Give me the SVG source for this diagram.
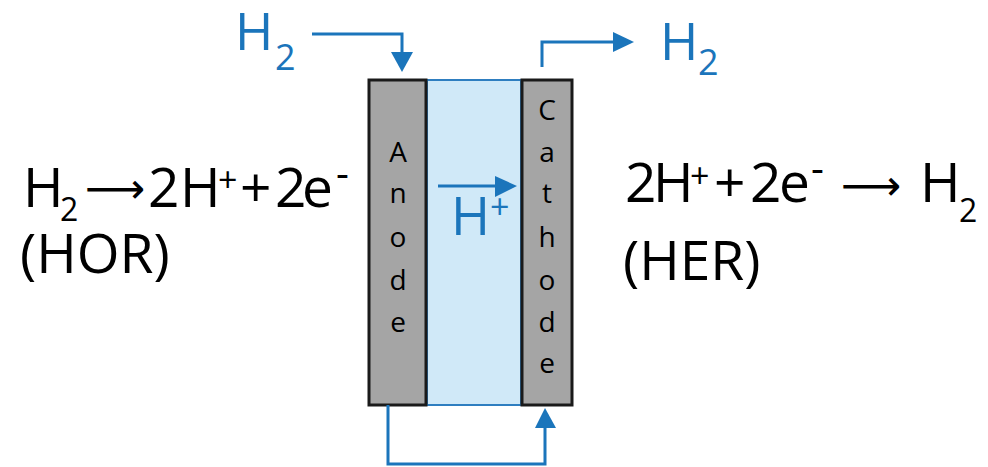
<svg xmlns="http://www.w3.org/2000/svg" width="988" height="467" viewBox="0 0 988 467">
<style>
text { font-family: "Open Sans", "Liberation Sans", sans-serif; }
.eq { font-size: 55px; fill: #000; }
.sub { font-size: 32px; }
.sup { font-size: 34px; }
.min { font-size: 40px; }
.arr { font-family: "DejaVu Sans", sans-serif; font-size: 42px; }
.blue { fill: #1B75BB; }
.lbl { font-size: 28px; fill: #000; text-anchor: middle; }
.electrode { fill: #A5A5A5; stroke: #1A1A1A; stroke-width: 3; }
.conn { fill: none; stroke: #1B75BB; stroke-width: 3; }
.head { fill: #1B75BB; }
</style>
<rect width="988" height="467" fill="#fff"/>

<g id="membrane">
  <rect x="427" y="80" width="94" height="325" fill="#D0E9F8" stroke="#2E7EC0" stroke-width="2"/>
</g>
<g id="anode">
  <rect class="electrode" x="369" y="80" width="57" height="325"/>
  <text class="lbl" x="398" y="162">A</text>
  <text class="lbl" x="398" y="203">n</text>
  <text class="lbl" x="398" y="247">o</text>
  <text class="lbl" x="398" y="290">d</text>
  <text class="lbl" x="398" y="332">e</text>
</g>
<g id="cathode">
  <rect class="electrode" x="522" y="80" width="50" height="325"/>
  <text class="lbl" x="547" y="120">C</text>
  <text class="lbl" x="547" y="162">a</text>
  <text class="lbl" x="547" y="203">t</text>
  <text class="lbl" x="547" y="247">h</text>
  <text class="lbl" x="547" y="290">o</text>
  <text class="lbl" x="547" y="332">d</text>
  <text class="lbl" x="547" y="373">e</text>
</g>

<g id="connectors">
  <path class="conn" d="M312,34 H402 V54"/>
  <polygon class="head" points="391,52 413,52 402,72"/>
  <path class="conn" d="M542,67 V42 H615"/>
  <polygon class="head" points="613,32 634,42 613,52"/>
  <path class="conn" d="M438,186 H497"/>
  <polygon class="head" points="495,176 517,186 495,197"/>
  <path class="conn" d="M388,405 V464 H545 V426"/>
  <polygon class="head" points="535,428 556,428 545,408"/>
</g>

<g id="h2-in">
  <text class="blue" style="font-size:52px"><tspan x="235" y="50">H</tspan><tspan x="275" y="70" style="font-size:36px">2</tspan></text>
</g>
<g id="h2-out">
  <text class="blue" style="font-size:52px"><tspan x="660" y="60">H</tspan><tspan x="698" y="75" style="font-size:36px">2</tspan></text>
</g>
<g id="hplus">
  <text class="blue" style="font-size:53px"><tspan x="451" y="235">H</tspan><tspan x="490" y="219" style="font-size:34px">+</tspan></text>
</g>

<g id="hor">
  <text class="eq"><tspan x="23" y="207">H</tspan><tspan class="sub" x="60" y="221">2</tspan><tspan class="arr" x="85" y="203">⟶</tspan><tspan x="148" y="207">2</tspan><tspan x="180" y="207">H</tspan><tspan class="sup" x="218" y="192">+</tspan><tspan x="240" y="207">+</tspan><tspan x="275" y="207">2</tspan><tspan x="302" y="207">e</tspan><tspan class="min" x="336" y="187">-</tspan></text>
  <text class="eq" x="20" y="273">(HOR)</text>
</g>

<g id="her">
  <text class="eq"><tspan x="625" y="202">2</tspan><tspan x="653" y="202">H</tspan><tspan class="sup" x="690" y="188">+</tspan><tspan x="714" y="202">+</tspan><tspan x="750" y="202">2</tspan><tspan x="779" y="202">e</tspan><tspan class="min" x="811" y="182">-</tspan><tspan class="arr" x="841" y="200">⟶</tspan><tspan x="920" y="202">H</tspan><tspan class="sub" x="959" y="222">2</tspan></text>
  <text class="eq" x="623" y="280">(HER)</text>
</g>
</svg>
